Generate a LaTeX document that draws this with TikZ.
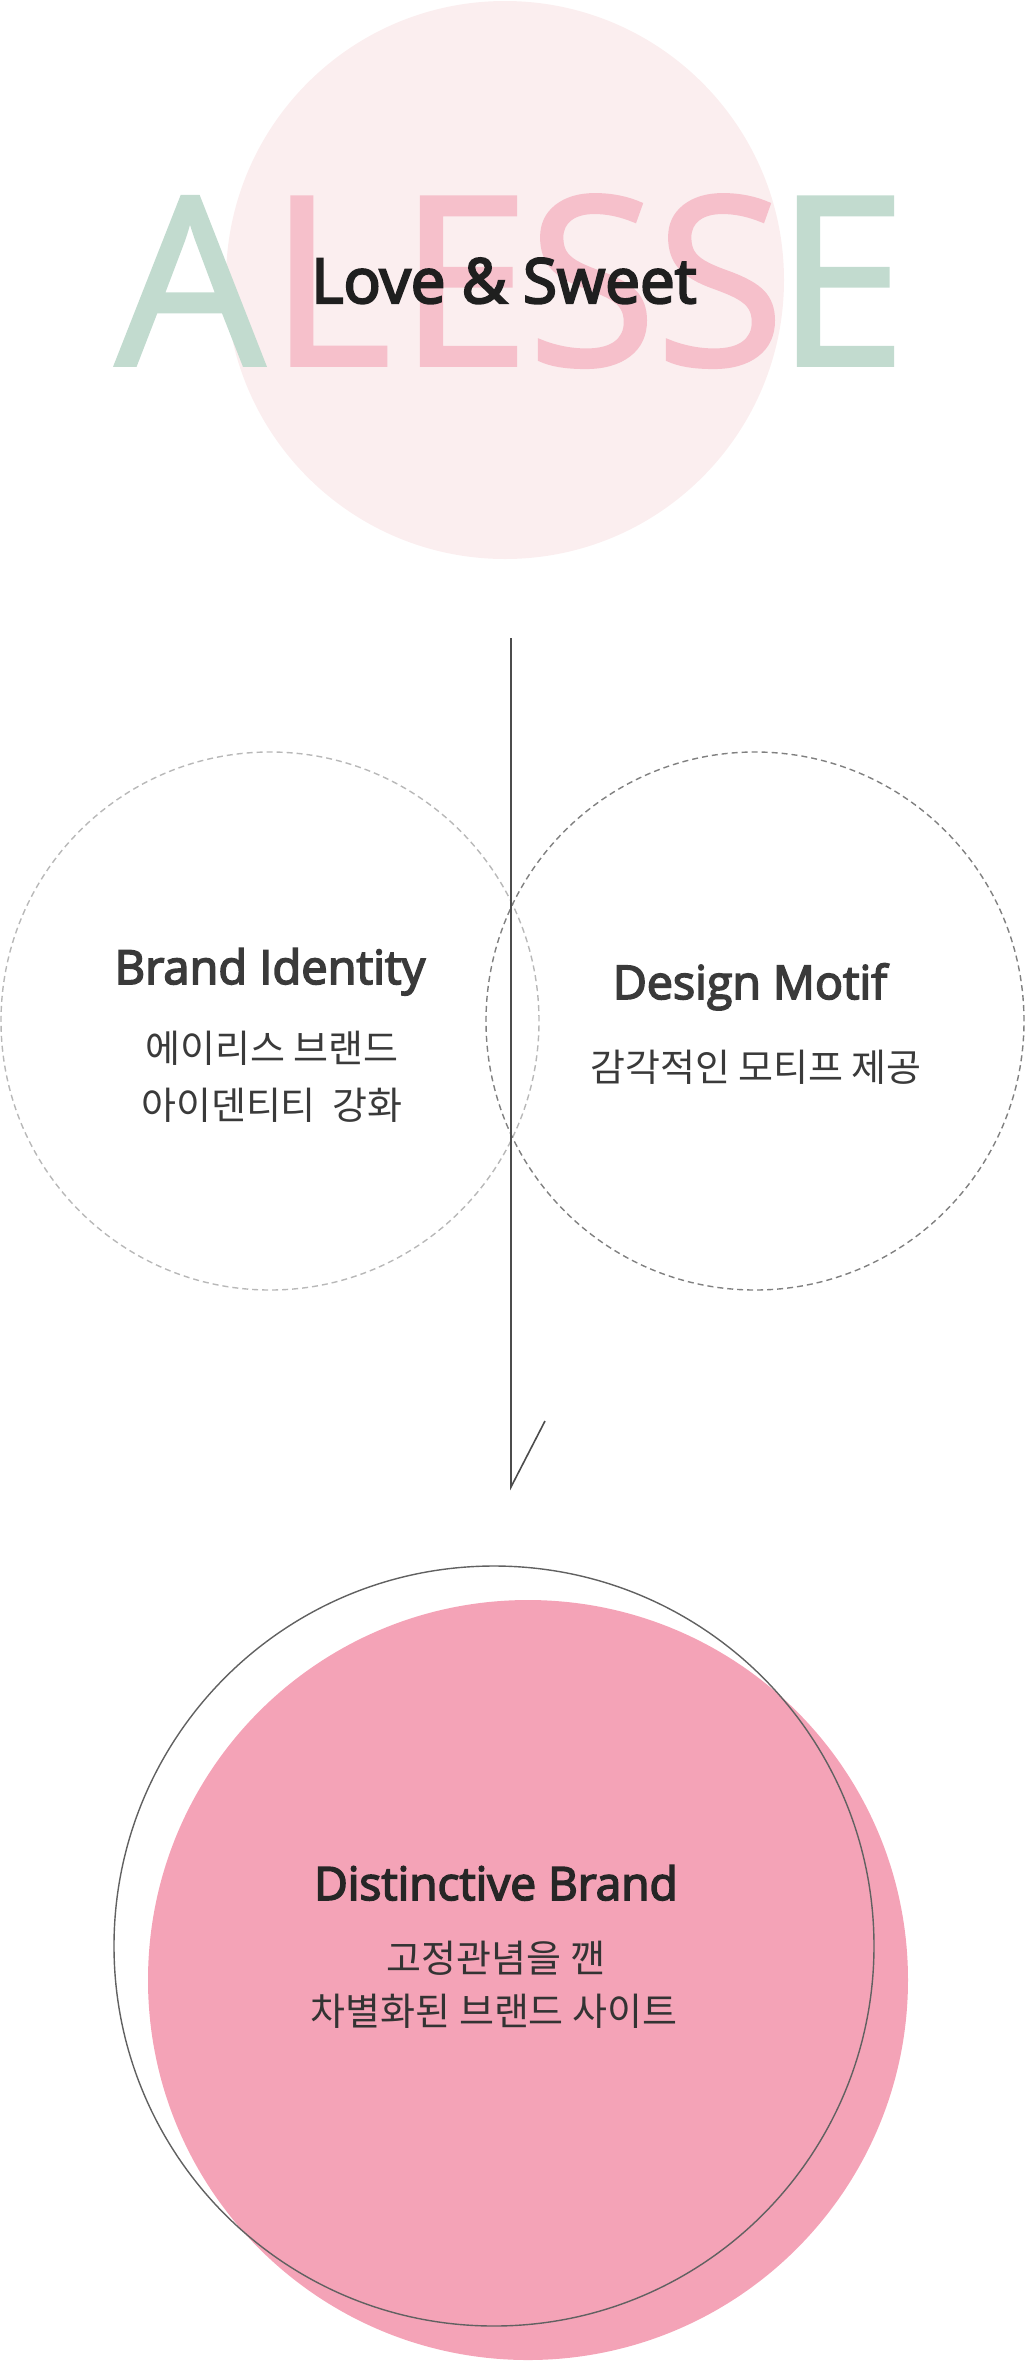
\documentclass[tikz,border=0pt]{standalone}
\usepackage{fontspec}
\setmainfont{Open Sans}
\newfontfamily\semib{Open Sans}[FakeBold=3.5]
\newfontfamily\bigf{Open Sans}[FakeBold=1.5]
\newfontfamily\kr{Noto Sans CJK KR}
\definecolor{mint}{HTML}{C2DBCF}
\definecolor{rose}{HTML}{F6C0CB}
\definecolor{blush}{HTML}{FBEEEF}
\definecolor{hotpink}{HTML}{F4A3B7}
\definecolor{ink}{HTML}{3A3A3A}
\tikzset{
  bigletter/.style={inner sep=0, anchor=base, font=\bigf\fontsize{235}{235}\selectfont},
  title/.style={inner sep=0, anchor=base, text=ink, font=\semib\fontsize{46.5}{46.5}\selectfont},
  krtext/.style={inner sep=0, anchor=base, text=ink, font=\kr\fontsize{38}{38}\selectfont},
  dashcirc/.style={circle, draw, dashed, dash pattern=on 6pt off 4pt, line width=1.4pt, minimum size=538pt, inner sep=0},
}
\begin{document}
\begin{tikzpicture}[x=1pt, y=-1pt]
\useasboundingbox (0,0) rectangle (1026,2362);
% top part
\node (topc) [circle, fill=blush, minimum size=558pt, inner sep=0] at (505,280) {};
\node (lA) [bigletter, text=mint] at (190,365) {A};
\node (lL) [bigletter, text=rose] at (330,365) {L};
\node (lE) [bigletter, text=rose] at (464,365) {E};
\node (lS) [bigletter, text=rose] at (592,365) {S};
\node (lS2) [bigletter, text=rose] at (720,365) {S};
\node (lE2) [bigletter, text=mint] at (841,365) {E};
\node (love) [inner sep=0, anchor=base, text=black!88, font=\semib\fontsize{62}{62}\selectfont] at (504,303) {Love \& Sweet};
% middle part
\node (left) [dashcirc, draw=black!28] at (270,1021) {};
\node (right) [dashcirc, draw=black!50] at (755,1021) {};
\node (bi) [title, font=\semib\fontsize{47}{47}\selectfont] at (270,984) {Brand Identity};
\node (bik1) [krtext] at (272,1062) {에이리스 브랜드};
\node (bik2) [krtext] at (272,1119) {아이덴티티~~강화};
\node (dm) [title] at (750,999) {Design Motif};
\node (dmk) [krtext] at (756,1081) {감각적인 모티프 제공};
\coordinate (vtop) at (511,638);
\coordinate (vbot) at (511,1487);
\coordinate (vtip) at (545,1421);
\draw [black!70, line width=1.6pt] (vtop) -- (vbot) -- (vtip);
% bottom part
\node (pinkc) [circle, fill=hotpink, minimum size=760pt, inner sep=0] at (528,1980) {};
\node (ring) [circle, draw=black!62, line width=1.4pt, minimum size=760pt, inner sep=0] at (494,1946) {};
\node (db) [title, text=black!85, font=\semib\fontsize{46}{46}\selectfont] at (496,1900) {Distinctive Brand};
\node (dbk1) [krtext, text=black!80] at (496,1972) {고정관념을 깬};
\node (dbk2) [krtext, text=black!80] at (494,2025) {차별화된 브랜드 사이트};
\end{tikzpicture}
\end{document}
